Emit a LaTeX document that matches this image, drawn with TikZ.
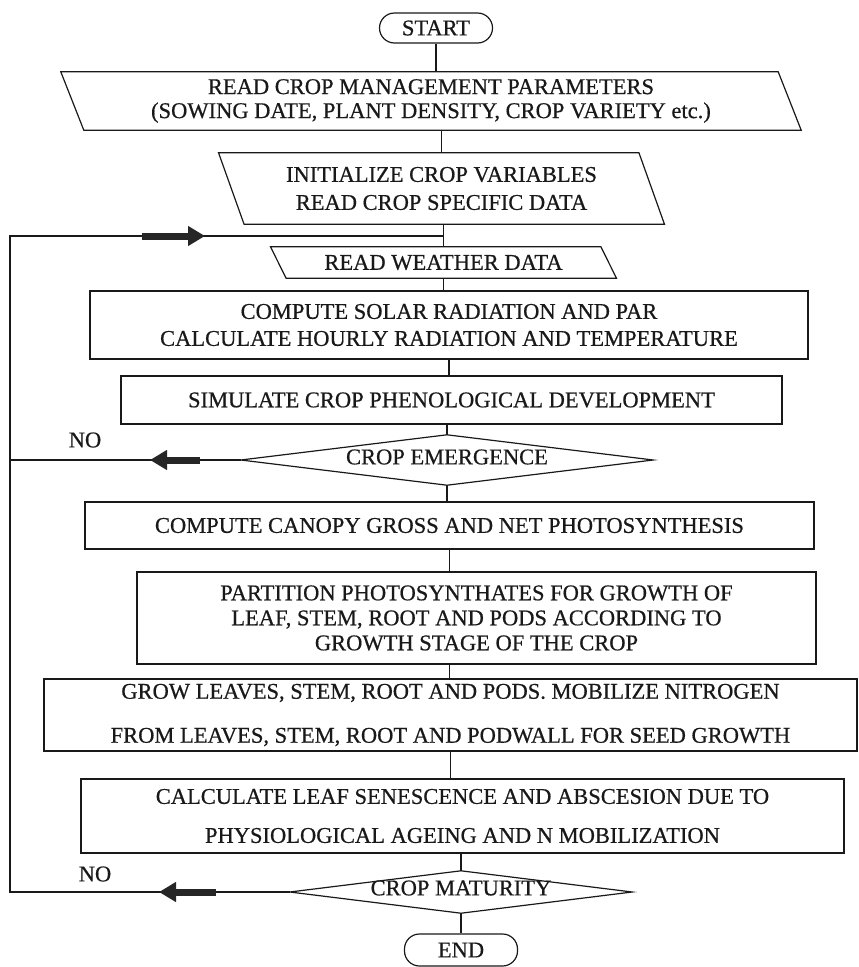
\documentclass[tikz,border=0pt]{standalone}
\usepackage{fontspec}
\setmainfont{Liberation Serif}[FakeBold=0.6]
\usetikzlibrary{arrows.meta}
\begin{document}
\begin{tikzpicture}[x=1pt,y=-1pt,
  every node/.style={font=\fontsize{22.5}{24}\selectfont, inner sep=0pt, align=center, text=black!90},
  flow/.style={line width=1.2pt, black!90},
  procbox/.style={draw=black!90, line width=1.2pt, rectangle},
  iobox/.style={rectangle},
  termbox/.style={draw=black!90, line width=1.2pt, rectangle, rounded corners=15pt, minimum width=113pt},
  decbox/.style={rectangle},
  bigarrow/.style={line width=7pt, black!85, -{Triangle[width=19pt,length=17pt]}},
]
\useasboundingbox (0,0) rectangle (859,967);

% terminals
\node[termbox, minimum height=30pt] (start) at (436,28) {START};
\node[termbox, minimum height=32pt] (end) at (461,950) {END};

% input/output parallelograms (outline drawn around the text node)
\node[iobox, minimum width=717pt, minimum height=58pt] (p1) at (431,101)
  {READ CROP MANAGEMENT PARAMETERS\\(SOWING DATE, PLANT DENSITY, CROP VARIETY etc.)};
\draw[flow] ([xshift=-11.5pt]p1.north west) -- ([xshift=-11.5pt]p1.north east)
  -- ([xshift=11.5pt]p1.south east) -- ([xshift=11.5pt]p1.south west) -- cycle;

\node[iobox, minimum width=420pt, minimum height=71pt] (p2) at (441.5,188.5)
  {INITIALIZE CROP VARIABLES\\[4pt]READ CROP SPECIFIC DATA};
\draw[flow] ([xshift=-12.75pt]p2.north west) -- ([xshift=-12.75pt]p2.north east)
  -- ([xshift=12.75pt]p2.south east) -- ([xshift=12.75pt]p2.south west) -- cycle;

\node[iobox, minimum width=330pt, minimum height=31pt] (weather) at (443.5,262.5)
  {READ WEATHER DATA};
\draw[flow] ([xshift=-7.75pt]weather.north west) -- ([xshift=-7.75pt]weather.north east)
  -- ([xshift=7.75pt]weather.south east) -- ([xshift=7.75pt]weather.south west) -- cycle;

% process boxes
\node[procbox, minimum width=718pt, minimum height=68pt] (solar) at (449,325)
  {COMPUTE SOLAR RADIATION AND PAR\\[3pt]CALCULATE HOURLY RADIATION AND TEMPERATURE};
\node[procbox, minimum width=661pt, minimum height=48pt] (sim) at (451.5,400)
  {SIMULATE CROP PHENOLOGICAL DEVELOPMENT};
\node[procbox, minimum width=729pt, minimum height=47pt] (canopy) at (449.5,525.5)
  {COMPUTE CANOPY GROSS AND NET PHOTOSYNTHESIS};
\node[procbox, minimum width=679pt, minimum height=92pt] (part) at (476.5,618)
  {PARTITION PHOTOSYNTHATES FOR GROWTH OF\\[1pt]LEAF, STEM, ROOT AND PODS ACCORDING TO\\[1pt]GROWTH STAGE OF THE CROP};
\node[procbox, minimum width=813pt, minimum height=72pt] (grow) at (450.5,715)
  {GROW LEAVES, STEM, ROOT AND PODS. MOBILIZE NITROGEN\\[20pt]FROM LEAVES, STEM, ROOT AND PODWALL FOR SEED GROWTH};
\node[procbox, minimum width=763pt, minimum height=74pt] (calc) at (462.5,816)
  {CALCULATE LEAF SENESCENCE AND ABSCESION DUE TO\\[15pt]PHYSIOLOGICAL AGEING AND N MOBILIZATION};

% decisions: flat diamonds drawn through the anchors of their text nodes
\node[decbox, minimum width=412pt, minimum height=50pt] (emerg) at (447,460) {};
\node (emergtxt) at (447,457) {CROP EMERGENCE};
\draw[flow] (emerg.north) -- (emerg.east) -- (emerg.south) -- (emerg.west) -- cycle;
\node[decbox, minimum width=342pt, minimum height=42pt] (mat) at (461,892) {};
\node (mattxt) at (461,888) {CROP MATURITY};
\draw[flow] (mat.north) -- (mat.east) -- (mat.south) -- (mat.west) -- cycle;

% branch labels
\node (no1) at (85,440) {NO};
\node (no2) at (95,874) {NO};

% main flow
\draw[flow] (start.south) -- (start.south |- p1.north);
\draw[flow] (p2.north |- p1.south) -- (p2.north);
\draw[flow] (weather.north |- p2.south) -- (weather.north);
\draw[flow] (weather.south) -- (weather.south |- solar.north);
\draw[flow] (solar.south) -- (solar.south |- sim.north);
\draw[flow] (emerg.north |- sim.south) -- (emerg.north);
\draw[flow] (emerg.south) -- (emerg.south |- canopy.north);
\draw[flow] (canopy.south) -- (canopy.south |- part.north);
\draw[flow] (canopy.south |- part.south) -- (canopy.south |- grow.north);
\draw[flow] (grow.south) -- (grow.south |- calc.north);
\draw[flow] (mat.north |- calc.south) -- (mat.north);
\draw[flow] (mat.south) -- (end.north);

% loop-back lines
\coordinate (lt) at (10,236);
\coordinate (lb) at (10,892);
\draw[flow] (mat.west) -- (lb) -- (lt) -- (weather.north |- lt);
\draw[flow] (emerg.west) -- (emerg.west -| lt);

% heavy direction arrows on the loop-back lines
\coordinate (a1s) at (142,236);
\coordinate (a1e) at (205,236);
\coordinate (a2s) at (200,460);
\coordinate (a2e) at (150,460);
\coordinate (a3s) at (216,892);
\coordinate (a3e) at (159,892);
\draw[bigarrow] (a1s) -- (a1e);
\draw[bigarrow] (a2s) -- (a2e);
\draw[bigarrow] (a3s) -- (a3e);
\end{tikzpicture}
\end{document}
